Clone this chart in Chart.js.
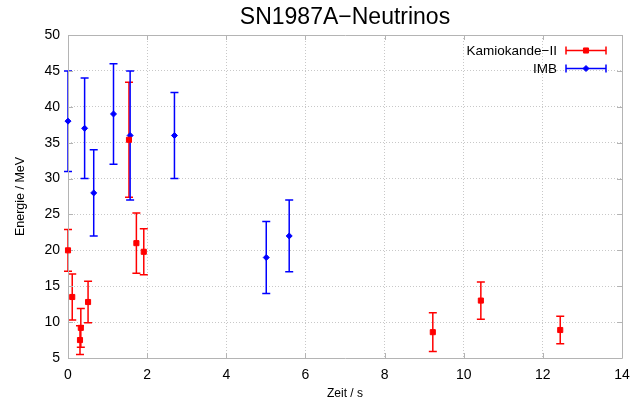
<!DOCTYPE html>
<html><head><meta charset="utf-8">
<script src="https://cdn.jsdelivr.net/npm/chart.js@4/dist/chart.umd.min.js"></script>
<style>html,body{margin:0;padding:0;background:#fff;}#wrap{width:632px;height:405px;}</style>
</head><body><div id="wrap"><canvas id="c" width="632" height="405"></canvas></div>
<script>
const chartTitle = 'SN1987A\u2212Neutrinos';
const xAxisTitle = 'Zeit / s';
const yAxisTitle = 'Energie / MeV';
const seriesNames = ['Kamiokande\u2212II', 'IMB'];
const kamTime   = [0, 0.107, 0.303, 0.324, 0.507, 1.541, 1.728, 1.915, 9.219, 10.433, 12.439];
const kamEnergy = [20.0, 13.5, 7.5, 9.2, 12.8, 35.4, 21.0, 19.8, 8.6, 13.0, 8.9];
const kamError  = [2.9, 3.2, 2.0, 2.7, 2.9, 8.0, 4.2, 3.2, 2.7, 2.6, 1.9];
const imbTime   = [0, 0.42, 0.65, 1.15, 1.57, 2.69, 5.01, 5.59];
const imbEnergy = [38, 37, 28, 39, 36, 36, 19, 22];
const imbError  = [7, 7, 6, 7, 9, 6, 5, 5];
const xTicks = [0, 2, 4, 6, 8, 10, 12, 14];
const yTicks = [5, 10, 15, 20, 25, 30, 35, 40, 45, 50];

const FONT = 'Liberation Sans, Arial, Helvetica, sans-serif';
const FRAME = '#b4b4b4';

function pts(xs, ys) { return xs.map((x, i) => ({x: x, y: ys[i]})); }

const errorBarPlugin = {
  id: 'errorBars',
  beforeDatasetsDraw(chart) {
    const ctx = chart.ctx, xs = chart.scales.x, ys = chart.scales.y;
    chart.data.datasets.forEach((ds, di) => {
      const err = ds.errors;
      ctx.save();
      ctx.strokeStyle = ds.borderColor;
      ctx.lineWidth = 1.5;
      ds.data.forEach((p, i) => {
        const px = xs.getPixelForValue(p.x);
        const y1 = ys.getPixelForValue(p.y - err[i]);
        const y2 = ys.getPixelForValue(p.y + err[i]);
        ctx.beginPath();
        ctx.moveTo(px, y1); ctx.lineTo(px, y2);
        ctx.moveTo(px - 4, y1); ctx.lineTo(px + 4, y1);
        ctx.moveTo(px - 4, y2); ctx.lineTo(px + 4, y2);
        ctx.stroke();
      });
      ctx.restore();
    });
  }
};

const framePlugin = {
  id: 'frame',
  beforeDatasetsDraw(chart) {
    const ctx = chart.ctx, a = chart.chartArea, xs = chart.scales.x, ys = chart.scales.y;
    ctx.save();
    ctx.strokeStyle = FRAME;
    ctx.lineWidth = 1;
    ctx.beginPath();
    ctx.rect(Math.round(a.left) + 0.5, Math.round(a.top) + 0.5, Math.round(a.right - a.left), Math.round(a.bottom - a.top));
    xTicks.forEach(v => {
      const px = Math.round(xs.getPixelForValue(v)) + 0.5;
      ctx.moveTo(px, a.bottom); ctx.lineTo(px, a.bottom - 5);
      ctx.moveTo(px, a.top); ctx.lineTo(px, a.top + 5);
    });
    yTicks.forEach(v => {
      const py = Math.round(ys.getPixelForValue(v)) + 0.5;
      ctx.moveTo(a.left, py); ctx.lineTo(a.left + 5, py);
      ctx.moveTo(a.right, py); ctx.lineTo(a.right - 5, py);
    });
    ctx.stroke();
    ctx.restore();
  },
  afterDraw(chart) {
    const ctx = chart.ctx, a = chart.chartArea;
    ctx.save();
    ctx.fillStyle = '#000';
    ctx.font = '23px ' + FONT;
    ctx.textAlign = 'center';
    ctx.textBaseline = 'alphabetic';
    ctx.fillText(chartTitle, (a.left + a.right) / 2, 24);
    ctx.font = '13.5px ' + FONT;
    ctx.textAlign = 'right';
    ctx.textBaseline = 'middle';
    chart.data.datasets.forEach((ds, i) => {
      const y = Math.round(a.top + 15 + i * 18) + 0.5;
      const x0 = a.right - 56, x1 = a.right - 16, xm = (x0 + x1) / 2;
      ctx.fillStyle = '#000';
      ctx.fillText(ds.label, a.right - 65, y + 1);
      ctx.strokeStyle = ds.borderColor;
      ctx.lineWidth = 1.5;
      ctx.beginPath();
      ctx.moveTo(x0, y); ctx.lineTo(x1, y);
      ctx.moveTo(x0, y - 4); ctx.lineTo(x0, y + 4);
      ctx.moveTo(x1, y - 4); ctx.lineTo(x1, y + 4);
      ctx.stroke();
      ctx.fillStyle = ds.backgroundColor;
      ctx.strokeStyle = ds.borderColor;
      ctx.lineWidth = 1;
      Chart.helpers.drawPoint(ctx, {pointStyle: ds.pointStyle, radius: ds.pointRadius, borderWidth: 1}, xm, y);
    });
    ctx.restore();
  }
};

new Chart(document.getElementById('c'), {
  type: 'scatter',
  data: {
    datasets: [
      {label: seriesNames[0], data: pts(kamTime, kamEnergy), errors: kamError, clip: false,
       borderColor: '#ff0000', backgroundColor: '#ff0000', pointStyle: 'rect', pointRadius: 3.6, borderWidth: 1, pointHoverRadius: 3.6},
      {label: seriesNames[1], data: pts(imbTime, imbEnergy), errors: imbError, clip: false,
       borderColor: '#0000ff', backgroundColor: '#0000ff', pointStyle: 'rectRot', pointRadius: 3, borderWidth: 1, pointHoverRadius: 3}
    ]
  },
  options: {
    responsive: false,
    animation: false,
    devicePixelRatio: 1,
    layout: {padding: {top: 35, right: 10, left: 0, bottom: 0}},
    plugins: {legend: {display: false}, title: {display: false}, tooltip: {enabled: false}},
    scales: {
      x: {
        type: 'linear', min: 0, max: 14,
        afterBuildTicks: s => { s.ticks = xTicks.map(v => ({value: v})); },
        afterFit: s => { s.height = 47; s.paddingRight = 0; s.paddingLeft = 0; },
        grid: {color: '#c8c8c8', lineWidth: 1, drawTicks: false},
        border: {display: false, dash: [1, 2]},
        ticks: {padding: 9, color: '#000', font: {family: FONT, size: 14}},
        title: {display: true, text: xAxisTitle, color: '#000', font: {family: FONT, size: 12}, padding: {top: 0, bottom: 4}}
      },
      y: {
        type: 'linear', min: 5, max: 50,
        afterBuildTicks: s => { s.ticks = yTicks.map(v => ({value: v})); },
        afterFit: s => { s.width = 68; },
        grid: {color: '#c8c8c8', lineWidth: 1, drawTicks: false},
        border: {display: false, dash: [1, 2]},
        ticks: {padding: 8, color: '#000', font: {family: FONT, size: 14}},
        title: {display: true, text: yAxisTitle, color: '#000', font: {family: FONT, size: 12.5}, padding: {top: 13, bottom: 0}}
      }
    }
  },
  plugins: [errorBarPlugin, framePlugin]
});
</script></body></html>
